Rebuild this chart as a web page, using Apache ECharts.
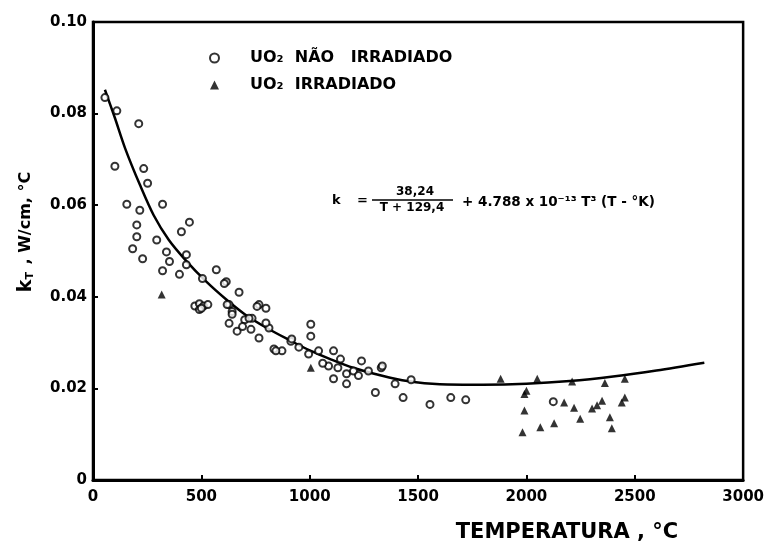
<!DOCTYPE html>
<html><head><meta charset="utf-8">
<script src="https://cdn.jsdelivr.net/npm/echarts@6/dist/echarts.min.js"></script>
<style>html,body{margin:0;padding:0;background:#fff}#c{width:767px;height:546px}</style>
</head><body><div id="c"></div>
<script>
// Tick labels
const xTicks = [0, 500, 1000, 1500, 2000, 2500, 3000];
const yTicks = [0, 0.02, 0.04, 0.06, 0.08, 0.10];

// UO2 não irradiado (circles): temperature °C, k
const circT = [55,110,211,101,234,252,156,216,321,202,445,408,202,183,294,229,339,353,321,431,431,399,569,615,674,505,
  470,491,510,530,491,500,628,642,628,665,734,729,766,766,798,700,690,835,872,913,950,1005,1005,995,1041,1110,1087,1110,
  1142,1170,1170,1239,1202,1271,1330,1303,1394,1431,1555,1651,1720,1468,1335,2124,619,642,720,757,812,798,917,606,844,1060,1130,1225];
const circK = [0.0835,0.0806,0.0778,0.0685,0.068,0.0648,0.0602,0.0589,0.0602,0.0557,0.0563,0.0542,0.0531,0.0505,0.0524,0.0483,0.0498,0.0477,0.0457,0.0492,0.047,0.0449,0.0459,0.0433,0.041,0.044,
  0.038,0.0385,0.038,0.0383,0.0372,0.0375,0.0383,0.0368,0.0342,0.0325,0.0353,0.0329,0.031,0.0383,0.0375,0.035,0.0335,0.0286,0.0282,0.0303,0.029,0.034,0.0314,0.0275,0.0282,0.0282,0.0249,0.0221,
  0.0264,0.0232,0.021,0.026,0.0238,0.0238,0.0245,0.0191,0.021,0.018,0.0165,0.018,0.0175,0.0219,0.0249,0.0171,0.0383,0.0362,0.0353,0.0379,0.0332,0.0343,0.0308,0.0429,0.0282,0.0255,0.0245,0.0228];

// UO2 irradiado (triangles)
const triT = [317,1881,2050,1991,1991,1982,2064,2128,2174,2220,2211,2248,2303,2326,2349,2362,2385,2394,2440,2454,2454,2000,1005];
const triK = [0.0405,0.0221,0.0221,0.0188,0.0152,0.0104,0.0115,0.0124,0.0169,0.0158,0.0215,0.0134,0.0156,0.0163,0.0173,0.0212,0.0137,0.0113,0.0169,0.018,0.0221,0.0195,0.0245];

// Fitted curve
const curveT = [55,100,150,216,280,350,431,523,615,700,798,904,1000,1100,1200,1330,1450,1600,1800,2000,2200,2400,2600,2821];
const curveK = [0.0852,0.0792,0.0722,0.0645,0.0578,0.0524,0.0478,0.0433,0.0394,0.0362,0.0333,0.0306,0.0283,0.0263,0.0245,0.0228,0.0216,0.0209,0.0208,0.021,0.0216,0.0226,0.0239,0.0256];

const zip = (a, b) => a.map((v, i) => [v, b[i]]);
const FONT = 'DejaVu Sans';

const chart = echarts.init(document.getElementById('c'));
chart.setOption({
  animation: false,
  backgroundColor: '#fff',
  grid: { left: 93, right: 19, top: 22, bottom: 66, show: true, borderColor: '#000', borderWidth: 2.5, backgroundColor: 'transparent' },
  xAxis: {
    type: 'value', min: 0, max: 3000, interval: 500,
    axisLine: { show: true, lineStyle: { color: '#000', width: 3 } },
    axisTick: { show: true, inside: true, length: 5, lineStyle: { color: '#000', width: 2 } },
    axisLabel: { color: '#000', fontFamily: FONT, fontWeight: 'bold', fontSize: 15, margin: 10,
      formatter: v => xTicks.includes(v) ? String(v) : '' },
    splitLine: { show: false }
  },
  yAxis: {
    type: 'value', min: 0, max: 0.10, interval: 0.02,
    axisLine: { show: true, lineStyle: { color: '#000', width: 3 } },
    axisTick: { show: true, inside: true, length: 5, lineStyle: { color: '#000', width: 2 } },
    axisLabel: { color: '#000', fontFamily: FONT, fontWeight: 'bold', fontSize: 15, margin: 6,
      formatter: v => { const t = yTicks.find(y => Math.abs(y - v) < 1e-9); return t === undefined ? '' : (t === 0 ? '0' : t.toFixed(2)); } },
    splitLine: { show: false }
  },
  legend: {
    orient: 'vertical', left: 204, top: 45, itemGap: 11, itemWidth: 9, itemHeight: 9,
    textStyle: { color: '#000', fontFamily: FONT, fontWeight: 'bold', fontSize: 16, padding: [0, 0, 0, 26] },
    data: [
      { name: 'UO₂  NÃO   IRRADIADO', icon: 'circle', itemStyle: { color: '#fff', borderColor: '#000', borderWidth: 2 } },
      { name: 'UO₂  IRRADIADO', icon: 'triangle', itemStyle: { color: '#000' } }
    ]
  },
  series: [
    { type: 'line', name: 'curve', data: zip(curveT, curveK), smooth: 0.3, showSymbol: false, symbol: 'none',
      lineStyle: { color: '#000', width: 2.5 }, z: 2 },
    { type: 'scatter', name: 'UO₂  NÃO   IRRADIADO', data: zip(circT, circK), symbol: 'circle', symbolSize: 7,
      itemStyle: { color: '#fff', borderColor: '#000', borderWidth: 2 }, z: 3 },
    { type: 'scatter', name: 'UO₂  IRRADIADO', data: zip(triT, triK), symbol: 'triangle', symbolSize: 8,
      itemStyle: { color: '#000' }, z: 4 }
  ],
  graphic: [
    { type: 'text', x: 567, y: 533, style: { text: 'TEMPERATURA , °C', fill: '#000', font: 'bold 21px "DejaVu Sans"', align: 'center', verticalAlign: 'middle' } },
    { type: 'text', x: 26, y: 232, rotation: Math.PI / 2,
      style: { text: '{k|k}{s|T}{n| , W/cm, °C}', align: 'center', verticalAlign: 'middle', fill: '#000',
        rich: { k: { font: 'bold 19px "DejaVu Sans"', fill: '#000' }, s: { font: 'bold 11px "DejaVu Sans"', fill: '#000', verticalAlign: 'bottom', padding: [9, 2, 0, 0] }, n: { font: 'bold 16px "DejaVu Sans"', fill: '#000' } } } },
    { type: 'text', x: 332, y: 201, style: { text: 'k', fill: '#000', font: 'bold 13px "DejaVu Sans"', align: 'left', verticalAlign: 'middle' } },
    { type: 'text', x: 357, y: 201, style: { text: '=', fill: '#000', font: 'bold 13px "DejaVu Sans"', align: 'left', verticalAlign: 'middle' } },
    { type: 'text', x: 415, y: 192, style: { text: '38,24', fill: '#000', font: 'bold 12px "DejaVu Sans"', align: 'center', verticalAlign: 'middle' } },
    { type: 'line', shape: { x1: 372, y1: 200, x2: 453, y2: 200 }, style: { stroke: '#000', lineWidth: 1.5 } },
    { type: 'text', x: 412, y: 208, style: { text: 'T + 129,4', fill: '#000', font: 'bold 12px "DejaVu Sans"', align: 'center', verticalAlign: 'middle' } },
    { type: 'text', x: 462, y: 202, style: { text: '+ 4.788 x 10⁻¹³ T³ (T - °K)', fill: '#000', font: 'bold 13.5px "DejaVu Sans"', align: 'left', verticalAlign: 'middle' } }
  ]
});
</script></body></html>
